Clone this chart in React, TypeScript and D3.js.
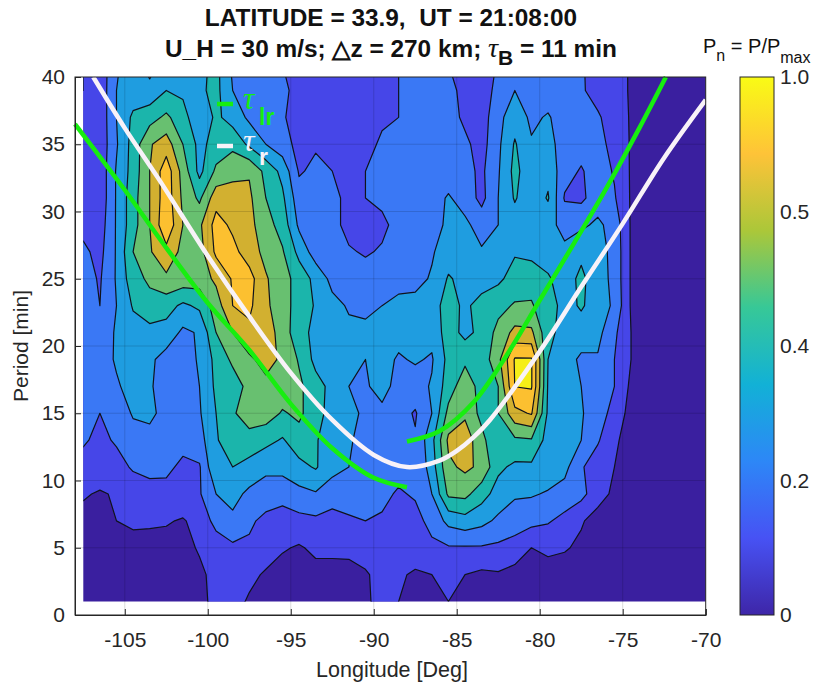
import React, { useRef, useEffect } from "react";
import * as d3 from "d3";

// normalised power x 100, one array per period row, one value per longitude
const lons = d3.range(39).map((k) => -107.5 + k);
const periods = [1, 3, 5, 7, 9, 11, 13, 15, 17, 19, 21, 23, 25, 27, 29, 31, 33, 35, 37, 39, 41];

const p01 = [5,5,5,5,5,5,5,7,13,13,9,5,4,4,4,4,4,9,12,10,7,8,10,5,5,5,5,5,5,5,5,4,4,4,4,4,4,4,4];
const p03 = [5,5,5,5,5,5,6,8,13,15,12,9,6,6,7,7,6,9,13,12,8,10,12,10,8,9,7,6,6,5,5,4,4,4,4,4,4,4,4];
const p05 = [5,7,6,6,5,6,7,11,15,18,18,14,11,9,12,12,13,14,15,17,18,18,19,19,19,18,15,10,12,11,8,5,4,4,4,4,4,4,4];
const p07 = [7,9,10,12,12,11,9,14,23,28,22,17,15,17,18,16,18,20,19,15,17,23,33,36,33,28,26,23,21,17,11,6,4,4,4,4,4,4,4];
const p09 = [11,9,11,15,16,17,18,19,30,33,28,26,24,27,29,25,27,25,22,19,21,30,52,53,44,36,31,31,29,26,23,14,8,4,4,4,4,4,4];
const p11 = [17,16,17,21,23,22,18,19,39,40,36,32,33,37,41,33,30,26,24,23,20,35,58,62,58,42,38,38,36,33,21,15,10,5,4,4,4,4,4];
const p13 = [21,18,21,26,27,25,23,26,39,46,47,43,39,46,41,34,31,27,26,23,21,37,62,66,53,41,48,49,36,36,30,21,12,5,4,4,4,4,4];
const p15 = [22,20,24,31,32,27,27,29,40,49,54,55,49,52,44,36,33,28,28,24,19,30,53,58,47,50,67,71,38,35,31,24,17,6,4,4,4,4,4];
const p17 = [24,26,29,33,31,26,25,30,42,45,53,57,56,52,44,37,30,29,33,27,26,31,45,56,46,50,80.2,81,39,35,30,24,20,8,4,4,4,4,4];
const p19 = [25,26,31,35,32,26,26,31,43,52,58,64,58,49,37,33,31,30,33,29,31,29,43,48,44,57,81,81,40,35,28,29,20,10,4,4,4,4,4];
const p21 = [24,25,31,36,37,36,28,31,50,60,68,66,55,44,37,32,32,33,33,33,32,33,45,37,43,53,63,62,43,36,36,33,22,10,4,4,4,4,4];
const p23 = [23,20,30,41,46,44,38,42,55,70,72,62,54,46,39,33,29,27,30,33,33,36,44,38,44,47,51,51,44,37,41,36,28,9,4,4,4,4,4];
const p25 = [24,19,31,46,52,58,56,55,62,71,74,61,54,46,37,27,26,24,24,26,27,31,41,37,35,38,44,46,41,36,42,35,27,9,4,4,4,4,4];
const p27 = [22,17,31,50,59,67,57,56,72,73,65,57,51,37,25,23,21,19,21,24,25,29,35,36,31,33,39,37,36,32,38,34,27,9,4,4,4,4,4];
const p29 = [17,15,31,46,60,78,60,58,74,68,63,54,46,28,24,23,17,18,18,23,25,26,32,32,26,30,35,33,33,27,28,32,26,9,4,4,4,4,4];
const p31 = [16,13,31,46,60,76,58,48,66,63,62,50,42,24,21,23,17,20,22,24,25,26,31,26,17,30,41,33,41,19,18,25,21,9,4,4,4,4,4];
const p33 = [15,13,31,44,60,76,56,37,52,58,59,47,37,19,22,20,19,20,21,21,23,24,25,23,18,29,43,33,37,24,19,25,19,9,4,4,4,4,4];
const p35 = [15,13,29,44,59,65,50,37,44,47,38,30,24,17,19,17,17,18,21,23,24,25,24,22,16,28,41,31,33,26,24,22,18,9,4,4,4,4,4];
const p37 = [15,13,30,42,46,52,44,32,42,36,28,25,21,16,16,15,15,16,19,20,24,25,24,18,15,27,36,28,31,25,23,21,16,9,4,4,4,4,4];
const p39 = [20,13,30,34,33,40,38,38,43,30,25,24,22,17,15,14,14,14,15,20,23,25,22,18,15,23,30,24,25,23,21,17,14,9,4,4,4,4,4];
const p41 = [20,13,29,34,26,34,36,37,43,28,24,23,20,15,14,14,14,14,15,20,22,24,20,17,14,21,24,17,23,22,21,16,14,9,4,4,4,4,4];
const powerRows = [p01,p03,p05,p07,p09,p11,p13,p15,p17,p19,p21,p23,p25,p27,p29,p31,p33,p35,p37,p39,p41];

const levels = [0, 10, 20, 30, 40, 50, 60, 70, 80];
const bandColors = ["#3a1f9f", "#4646e8", "#3a78f5", "#1f9de0", "#1bb5ab", "#68c070", "#d2b030", "#fcc030", "#f5ee18"];

// theoretical tau curves
const whiteLon = [-106.9, -105, -103, -100, -97.5, -95, -92.5, -90, -88, -86, -85, -84, -83, -80, -77.5, -75, -72.5, -70];
const whitePeriod = [40, 36.2, 32.5, 26.7, 22.2, 18, 14.5, 11.9, 11, 11.5, 12.2, 13.2, 14.5, 19.6, 24.4, 29.1, 34, 38.3];
const greenLeftLon = [-108, -105, -102.5, -100, -97.5, -95, -92.5, -90, -88];
const greenLeftPeriod = [36.5, 31.6, 27.3, 23.2, 19.7, 15.7, 12.4, 10.2, 9.5];
const greenRightLon = [-88, -86, -84, -82, -80, -78, -76, -74, -72.4];
const greenRightPeriod = [12.9, 13.7, 15.8, 19.3, 23.4, 27.5, 31.7, 36.2, 40];

const xTicks = [-105, -100, -95, -90, -85, -80, -75, -70];
const yTicks = [0, 5, 10, 15, 20, 25, 30, 35, 40];
const cbarLabels = ["0", "0.2", "0.4", "0.5", "1.0"];
const parula = ["#3e26a8", "#4752f4", "#2d87f7", "#12b1d6", "#37c897", "#abc739", "#fec338", "#f9fb15"];

const FONT = "'Liberation Sans', Arial, sans-serif";
const INK = "#262626";

export default function App() {
  const svgRef = useRef<SVGSVGElement>(null);

  useEffect(() => {
    const svg = d3.select(svgRef.current);
    svg.selectAll("*").remove();

    const x = d3.scaleLinear().domain([-108, -70]).range([75, 705.7]);
    const y = d3.scaleLinear().domain([0, 40]).range([615, 77]);

    // clip to where the spectrum has data
    const defs = svg.append("defs");
    defs.append("clipPath").attr("id", "data-clip").append("rect")
      .attr("x", x(-107.5)).attr("y", y(40))
      .attr("width", x(-70) - x(-107.5)).attr("height", y(1) - y(40));

    // filled contours
    const contours = d3.contours()
      .size([lons.length, periods.length])
      .thresholds(levels)(powerRows.flat());

    const project = d3.geoTransform({
      point(cx, cy) {
        const lon = lons[0] + (cx - 0.5) * (lons[1] - lons[0]);
        const per = periods[0] + (cy - 0.5) * (periods[1] - periods[0]);
        this.stream.point(x(lon), y(per));
      },
    });
    const path = d3.geoPath(project);

    svg.append("g").attr("clip-path", "url(#data-clip)")
      .selectAll("path").data(contours).join("path")
      .attr("d", (d) => path(d))
      .attr("fill", (d, i) => bandColors[i])
      .attr("stroke", "#10131c")
      .attr("stroke-width", 1.2)
      .attr("stroke-linejoin", "round");

    // faint grid on top of the fill
    const grid = svg.append("g").attr("stroke", "#000").attr("stroke-opacity", 0.14).attr("stroke-width", 1);
    xTicks.slice(0, -1).forEach((t) => {
      grid.append("line").attr("x1", x(t)).attr("x2", x(t)).attr("y1", y(0)).attr("y2", y(40));
    });
    yTicks.slice(1, -1).forEach((t) => {
      grid.append("line").attr("x1", x(-108)).attr("x2", x(-70)).attr("y1", y(t)).attr("y2", y(t));
    });

    // curves
    const line = d3.line<number>()
      .x((d) => x(d))
      .curve(d3.curveCatmullRom);
    const drawCurve = (lonVals: number[], perVals: number[], color: string, w: number) => {
      svg.append("path")
        .attr("d", line.y((d, i) => y(perVals[i]))(lonVals))
        .attr("fill", "none")
        .attr("stroke", color)
        .attr("stroke-width", w);
    };
    drawCurve(greenLeftLon, greenLeftPeriod, "#17ee10", 4.5);
    drawCurve(greenRightLon, greenRightPeriod, "#17ee10", 4.5);
    drawCurve(whiteLon, whitePeriod, "#f8f2f8", 4.5);

    // axes
    const styleAxis = (g: any) => {
      g.selectAll("text").attr("font-family", FONT).attr("font-size", 21).attr("fill", INK);
      g.selectAll("line,path").attr("stroke", INK);
    };
    svg.append("g").attr("transform", `translate(0,${y(0)})`)
      .call(d3.axisBottom(x).tickValues(xTicks).tickSize(-6).tickPadding(17).tickFormat((d) => String(d)))
      .call(styleAxis);
    svg.append("g").attr("transform", `translate(${x(-108)},0)`)
      .call(d3.axisLeft(y).tickValues(yTicks).tickSize(-6).tickPadding(10))
      .call(styleAxis);
    svg.append("rect")
      .attr("x", x(-108)).attr("y", y(40))
      .attr("width", x(-70) - x(-108)).attr("height", y(0) - y(40))
      .attr("fill", "none").attr("stroke", INK).attr("stroke-width", 1);

    // colorbar
    const cbarX = 740;
    const cbarW = 34;
    const gradient = defs.append("linearGradient").attr("id", "parula")
      .attr("x1", 0).attr("x2", 0).attr("y1", 1).attr("y2", 0);
    parula.forEach((c, i) => {
      gradient.append("stop").attr("offset", i / (parula.length - 1)).attr("stop-color", c);
    });
    svg.append("rect")
      .attr("x", cbarX).attr("y", y(40))
      .attr("width", cbarW).attr("height", y(0) - y(40))
      .attr("fill", "url(#parula)").attr("stroke", INK);
    const cbarScale = d3.scalePoint<string>().domain(cbarLabels).range([y(0), y(40)]);
    svg.append("g").attr("transform", `translate(${cbarX + cbarW},0)`)
      .call(d3.axisRight(cbarScale).tickSize(0).tickPadding(6))
      .call(styleAxis)
      .call((g: any) => g.select("path").remove());

    // text
    const text = (tx: number, ty: number, str: string, size: number, attrs: Record<string, any> = {}) => {
      const t = svg.append("text").attr("x", tx).attr("y", ty)
        .attr("font-family", FONT).attr("font-size", size).attr("fill", "#111").text(str);
      Object.entries(attrs).forEach(([k, v]) => t.attr(k, v));
      return t;
    };
    text(391, 26, "LATITUDE = 33.9,  UT = 21:08:00", 24.4, { "font-weight": "bold", "text-anchor": "middle" })
      .style("white-space", "pre");

    const line2 = svg.append("text").attr("x", 391).attr("y", 57).attr("text-anchor", "middle")
      .attr("font-family", FONT).attr("font-size", 24.4).attr("font-weight", "bold").attr("fill", "#111");
    line2.append("tspan").text("U_H = 30 m/s; \u25B3z = 270 km; ");
    line2.append("tspan").attr("font-family", "'Liberation Serif', serif").attr("font-style", "italic").attr("font-weight", "normal").attr("font-size", 28).text("\u03C4");
    line2.append("tspan").attr("dy", 8).attr("font-size", 21).text("B");
    line2.append("tspan").attr("dy", -8).text(" = 11 min");

    text(392, 677, "Longitude [Deg]", 21.5, { "text-anchor": "middle", fill: INK });
    text(0, 0, "Period [min]", 21, {
      "text-anchor": "middle", fill: INK,
      transform: `translate(28,346) rotate(-90)`,
    });

    const cbarTitle = svg.append("text").attr("x", 703).attr("y", 53)
      .attr("font-family", FONT).attr("font-size", 20).attr("fill", "#111");
    cbarTitle.append("tspan").text("P");
    cbarTitle.append("tspan").attr("dy", 8).attr("font-size", 16).text("n");
    cbarTitle.append("tspan").attr("dy", -8).text(" = P/P");
    cbarTitle.append("tspan").attr("dy", 10).attr("font-size", 16).text("max");

    // legend on the plot
    const legend = (ly: number, color: string, sub: string, subY: number) => {
      svg.append("line").attr("x1", 217).attr("x2", 233).attr("y1", ly).attr("y2", ly)
        .attr("stroke", color).attr("stroke-width", 4.5);
      text(243, ly + 5, "\u03C4", 32, { fill: color, "font-family": "'Liberation Serif', serif", "font-style": "italic" });
      text(259, subY, sub, 23, { fill: color, "font-weight": "bold" });
    };
    legend(104, "#17ee10", "lr", 125);
    legend(146, "#f8f2f8", "r", 165);
  }, []);

  return (
    <div>
      <svg ref={svgRef} width={815} height={684} style={{ position: "absolute", left: 0, top: 0 }} />
    </div>
  );
}
